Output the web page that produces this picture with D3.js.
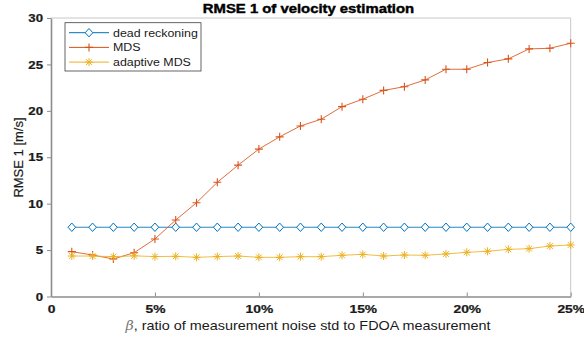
<!DOCTYPE html>
<html><head><meta charset="utf-8">
<script src="https://d3js.org/d3.v7.min.js"></script>
<style>body{margin:0;background:#fff}svg{display:block}text{font-family:"Liberation Sans",Arial,sans-serif}</style>
</head><body>
<svg id="c" width="584" height="341"></svg>
<script>
const xVals = [1,2,3,4,5,6,7,8,9,10,11,12,13,14,15,16,17,18,19,20,21,22,23,24,25];
const deadReckoning = [7.46,7.46,7.46,7.46,7.46,7.46,7.46,7.46,7.46,7.46,7.46,7.46,7.46,7.46,7.46,7.46,7.46,7.46,7.46,7.46,7.46,7.46,7.46,7.46,7.46];
const mds = [4.83,4.47,4.04,4.72,6.2,8.24,10.1,12.3,14.15,15.88,17.2,18.37,19.1,20.45,21.25,22.2,22.6,23.33,24.48,24.48,25.2,25.6,26.67,26.74,27.28];
const adaptiveMds = [4.36,4.36,4.29,4.38,4.3,4.33,4.22,4.3,4.36,4.22,4.22,4.29,4.29,4.44,4.54,4.36,4.47,4.44,4.58,4.76,4.87,5.08,5.15,5.44,5.55];
const xTicks = [0,5,10,15,20,25];
const xTickLabels = ["0","5%","10%","15%","20%","25%"];
const yTicks = [0,5,10,15,20,25,30];
const seriesNames = ["dead reckoning","MDS","adaptive MDS"];
const seriesColors = ["#0072BD","#D95319","#EDB120"];
const titleText = "RMSE 1 of velocity estimation";
const yLabel = "RMSE 1 [m/s]";

const svg = d3.select("#c");
const L=51, R=570.7, T=18, B=296.5;
const x = d3.scaleLinear().domain([0,25]).range([L,R]);
const y = d3.scaleLinear().domain([0,30]).range([B,T]);

function stretch(sel, s){
  sel.each(function(){
    const ax = +(this.getAttribute("x")||0);
    const prev = this.getAttribute("transform")||"";
    this.setAttribute("transform", `${prev} translate(${ax},0) scale(${s},1) translate(${-ax},0)`);
  });
}

// box top/right
svg.append("path").attr("d",`M${L},${T}H${R}V${B}`).attr("fill","none").attr("stroke","#c8c8c8").attr("stroke-width",1);

// x axis
const gx = svg.append("g").attr("transform",`translate(0,${B})`)
  .call(d3.axisBottom(x).tickValues(xTicks).tickFormat((d,i)=>xTickLabels[i]).tickSizeInner(-4).tickSizeOuter(0).tickPadding(8));
gx.select(".domain").attr("stroke","#8c8c8c").attr("stroke-width",1.3);
gx.selectAll(".tick line").attr("stroke","#8c8c8c");
gx.selectAll("text").attr("font-size",11.5).attr("font-weight","bold").attr("fill","#1a1a1a").attr("stroke","#1a1a1a").attr("stroke-width",0.25);
stretch(gx.selectAll("text"),1.2);

// y axis
const gy = svg.append("g").attr("transform",`translate(${L},0)`)
  .call(d3.axisLeft(y).tickValues(yTicks).tickSizeInner(4).tickSizeOuter(0).tickPadding(4));
gy.select(".domain").attr("stroke","#8c8c8c").attr("stroke-width",1.6);
gy.selectAll(".tick line").attr("stroke","#8c8c8c");
gy.selectAll("text").attr("font-size",11.5).attr("font-weight","bold").attr("fill","#1a1a1a").attr("stroke","#1a1a1a").attr("stroke-width",0.25);
stretch(gy.selectAll("text"),1.15);

const series = [deadReckoning, mds, adaptiveMds];
const line = d3.line().x((d,i)=>x(xVals[i])).y(d=>y(d));

function marker(g, type, color){
  if(type===0){
    g.append("path").attr("d","M0,-4.2L3.8,0L0,4.2L-3.8,0Z").attr("fill","#fff").attr("stroke",color).attr("stroke-width",1);
  } else if(type===1){
    g.append("path").attr("d","M-4,0H4M0,-4V4").attr("stroke",color).attr("stroke-width",1.1);
  } else {
    g.append("path").attr("d","M-4,0H4M0,-4V4M-2.9,-2.9L2.9,2.9M-2.9,2.9L2.9,-2.9").attr("stroke",color).attr("stroke-width",1);
  }
}

series.forEach((s,k)=>{
  svg.append("path").datum(s).attr("d",line).attr("fill","none").attr("stroke",seriesColors[k]).attr("stroke-width",1).attr("stroke-opacity",0.85);
  s.forEach((v,i)=>{
    const g = svg.append("g").attr("transform",`translate(${x(xVals[i])},${y(v)})`);
    marker(g,k,seriesColors[k]);
  });
});

// title
const tt = svg.append("text").attr("x",308.5).attr("y",13).attr("text-anchor","middle").attr("font-size",12.5).attr("font-weight","bold").attr("fill","#000").attr("stroke","#000").attr("stroke-width",0.4).text(titleText);
stretch(tt,1.19);

// y label
svg.append("text").attr("transform",`translate(23,157.5) rotate(-90)`).attr("text-anchor","middle").attr("font-size",13).attr("fill","#1a1a1a").attr("stroke","#1a1a1a").attr("stroke-width",0.2).text(yLabel);

// x label
const xl = svg.append("text").attr("x",308).attr("y",330).attr("text-anchor","middle").attr("font-size",12).attr("fill","#1a1a1a");
xl.append("tspan").attr("font-family","'DejaVu Serif',serif").attr("font-style","italic").attr("fill","#777").text("β");
xl.append("tspan").text(", ratio of measurement noise std to FDOA measurement");
stretch(xl,1.2);

// legend
const lg = svg.append("g");
lg.append("rect").attr("x",65).attr("y",22.7).attr("width",136).attr("height",48.3).attr("fill","#fff").attr("stroke","#404040").attr("stroke-width",0.8);
seriesNames.forEach((n,k)=>{
  const yy = 32.7 + k*14.7;
  lg.append("line").attr("x1",69).attr("x2",109).attr("y1",yy).attr("y2",yy).attr("stroke",seriesColors[k]).attr("stroke-width",1);
  marker(lg.append("g").attr("transform",`translate(89,${yy})`),k,seriesColors[k]);
  const t = lg.append("text").attr("x",113).attr("y",yy+4).attr("font-size",11.5).attr("fill","#1a1a1a").text(n);
  stretch(t,1.08);
});
</script>
</body></html>
